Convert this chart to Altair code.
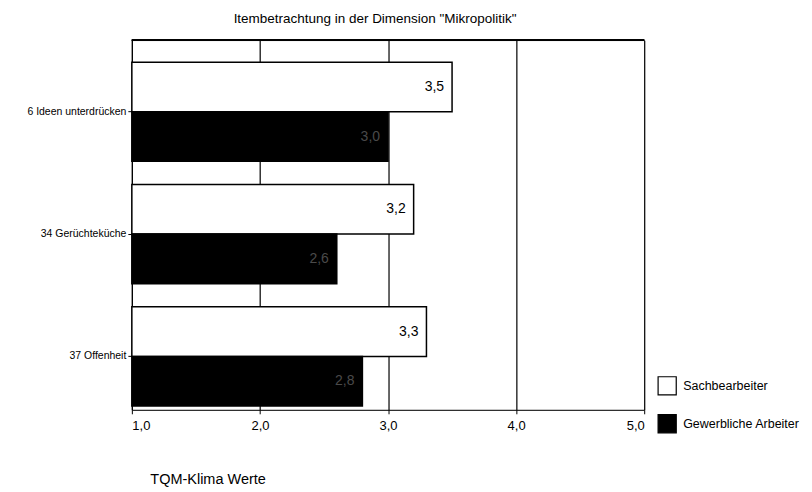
import altair as alt
import pandas as pd

items = ["6 Ideen unterdrücken", "34 Gerüchteküche", "37 Offenheit"]
groups = ["Sachbearbeiter", "Gewerbliche Arbeiter"]
sach = [3.5, 3.2, 3.3]
gew = [3.0, 2.6, 2.8]

rows = []
for i, it in enumerate(items):
    rows.append({"item": it, "group": groups[0], "value": sach[i]})
    rows.append({"item": it, "group": groups[1], "value": gew[i]})
df = pd.DataFrame(rows)
df["label"] = df["value"].map(lambda v: f"{v:.1f}".replace(".", ","))

FONT = "Liberation Sans Narrow, Liberation Sans, Arial"

y_enc = alt.Y("item:N", sort=items, title=None,
              scale=alt.Scale(paddingInner=0.19, paddingOuter=0.106, align=0.85),
              axis=alt.Axis(labelFont=FONT, labelFontSize=10.5, labelColor="black",
                            domainColor="black", tickColor="black", tickSize=4,
                            labelPadding=2))
yoff = alt.YOffset("group:N", sort=groups, scale=alt.Scale(domain=groups, paddingInner=0, paddingOuter=0))

x_enc = alt.X("value:Q", title="TQM-Klima Werte",
              scale=alt.Scale(domain=[1, 5], nice=False, zero=False),
              axis=alt.Axis(values=[1, 2, 3, 4, 5],
                            labelExpr="replace(format(datum.value, '.1f'), '.', ',')",
                            grid=True, gridColor="black", gridOpacity=1, gridWidth=1.2,
                            tickColor="black", domainColor="black",
                            labelFont=FONT, labelFontSize=13, labelColor="black",
                            labelPadding=6, tickSize=4,
                            titleFont=FONT, titleFontSize=14.5, titleFontWeight="normal",
                            titleColor="black", titleAnchor="start", titleAlign="left",
                            titleBaseline="middle", titleX=18, titleY=70))

bars = alt.Chart(df).mark_bar(stroke="black", strokeWidth=1.5).encode(
    x=x_enc,
    x2=alt.datum(1),
    y=y_enc,
    yOffset=yoff,
    fill=alt.Fill("group:N", sort=groups,
                  scale=alt.Scale(domain=groups, range=["white", "black"]),
                  legend=alt.Legend(title=None, orient="none", legendX=526, legendY=336,
                                    symbolType="square", symbolSize=330,
                                    symbolStrokeColor="black", symbolStrokeWidth=1.2,
                                    labelFont=FONT, labelFontSize=12.5, labelColor="black",
                                    rowPadding=14, labelOffset=6)),
)

texts = alt.Chart(df).mark_text(align="right", dx=-8, font=FONT, fontSize=14).encode(
    x=alt.X("value:Q"),
    y=y_enc,
    yOffset=yoff,
    text="label:N",
    color=alt.Color("group:N", sort=groups,
                    scale=alt.Scale(domain=groups, range=["black", "#4a4a4a"]),
                    legend=None),
)

top_border = alt.Chart(df).mark_rule(color="black", strokeWidth=1.5).encode(
    x=alt.value(0), x2=alt.value(513), y=alt.value(0)
)

chart = alt.layer(bars, texts, top_border).resolve_scale(color="independent").properties(
    width=513, height=370,
    padding={"left": 124, "top": 32, "right": 160, "bottom": 84},
    autosize=alt.AutoSizeParams(type="none"),
    title=alt.Title('Itembetrachtung in der Dimension "Mikropolitik"',
                    font=FONT, fontSize=13.5, fontWeight="normal", color="black",
                    offset=14, dx=-13),
).configure_view(stroke="black", strokeWidth=1.5).configure(background="white")

chart.save("out.html", embed_options={"renderer": "svg", "actions": False})
